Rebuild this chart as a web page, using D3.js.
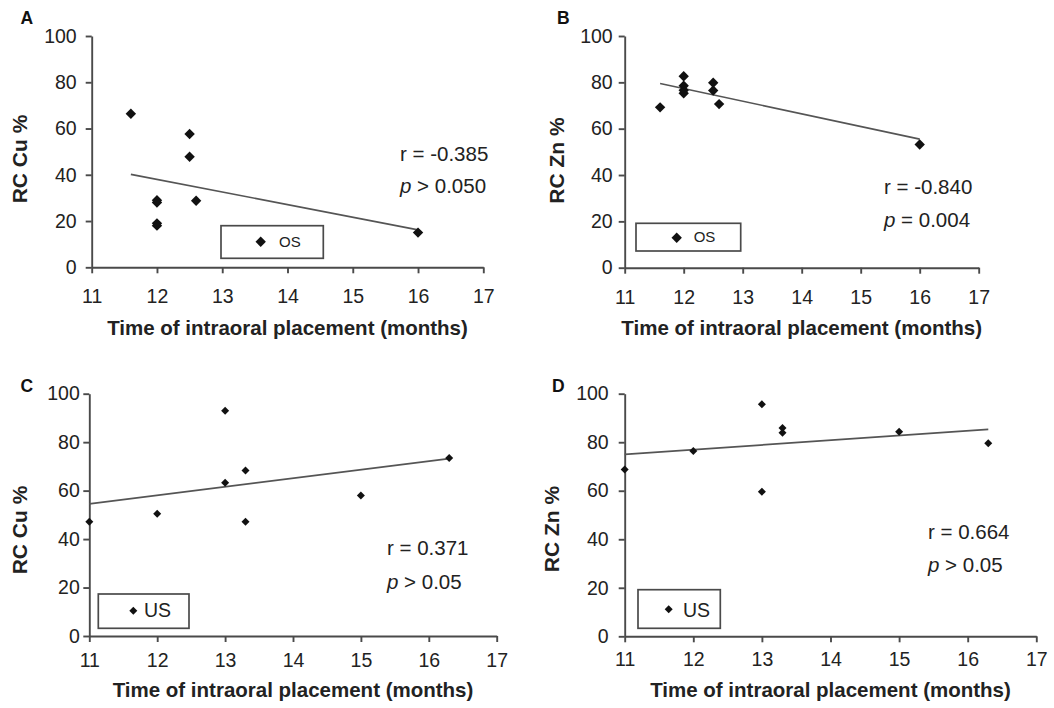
<!DOCTYPE html>
<html>
<head>
<meta charset="utf-8">
<script src="https://cdn.jsdelivr.net/npm/d3@7"></script>
<style>
  body { margin: 0; background: #fff; }
  text { font-family: "Liberation Sans", Arial, sans-serif; }
</style>
</head>
<body>
<div id="chart"></div>
<script>
// data
var yTicks = [0, 20, 40, 60, 80, 100];
var xTicks = [11, 12, 13, 14, 15, 16, 17];

var monthsOS = [11.6, 12, 12, 12, 12, 12.5, 12.5, 12.6, 16];
var cuOS = [66.4, 28.0, 29.0, 18.0, 19.0, 57.6, 47.8, 28.8, 15.0];
var znOS = [69.2, 82.6, 78.5, 76.6, 75.3, 79.8, 76.5, 70.6, 53.2];

var monthsUS = [11, 12, 13, 13, 13.3, 13.3, 15, 16.3];
var cuUS = [47.2, 50.5, 93.0, 63.2, 68.3, 47.2, 58.0, 73.5];
var znUS = [68.8, 76.4, 95.6, 59.6, 85.9, 83.9, 84.3, 79.6];

// fitted line end points [month, value]
var trendCuOS = [[11.6, 40.2], [16, 16.2]];
var trendZnOS = [[11.6, 79.5], [16, 55.5]];
var trendCuUS = [[11, 54.5], [16.3, 73.2]];
var trendZnUS = [[11, 75.0], [16.3, 85.3]];

var panelLetters = ["A", "B", "C", "D"];
var yTitles = ["RC Cu %", "RC Zn %", "RC Cu %", "RC Zn %"];
var groupNames = ["OS", "OS", "US", "US"];
var rTexts = ["r = -0.385", "r = -0.840", "r = 0.371", "r = 0.664"];
var pTexts = ["> 0.050", "= 0.004", "> 0.05", "> 0.05"];

var xTitle = "Time of intraoral placement (months)";

// layout of each panel (pixels)
var panels = [
  {x: monthsOS, y: cuOS, trend: trendCuOS, xr: [91.7, 483.3], yr: [267.3, 36], ypad: 9, xpad: 16,
   letter: [20.5, 24], ytitle: [27.3, 159], xtitle: 335, stat: [400, 160.5, 193.3], mark: 5.2,
   legend: {x: 221, y: 225.7, w: 102.3, h: 32.6, mx: 260.7, my: 241.7, tx: 279, ty: 246.7, fs: 15}},
  {x: monthsOS, y: znOS, trend: trendZnOS, xr: [624.7, 978.7], yr: [267.7, 36], ypad: 6, xpad: 16,
   letter: [557, 24], ytitle: [563.7, 160.5], xtitle: 335, stat: [884, 194.3, 226.7], mark: 5.2,
   legend: {x: 636, y: 223.3, w: 104.7, h: 27.7, mx: 676.7, my: 237.7, tx: 693.7, ty: 242, fs: 15}},
  {x: monthsUS, y: cuUS, trend: trendCuUS, xr: [89.3, 496.7], yr: [636, 393.7], ypad: 3.5, xpad: 11,
   letter: [20.5, 391.7], ytitle: [27.3, 530], xtitle: 697, stat: [387, 555, 589.3], mark: 4,
   legend: {x: 98.3, y: 594, w: 90.7, h: 34.3, mx: 133.3, my: 610.7, tx: 144, ty: 617, fs: 19.5}},
  {x: monthsUS, y: znUS, trend: trendZnUS, xr: [624.7, 1036.3], yr: [636.3, 393.7], ypad: 10, xpad: 9.5,
   letter: [552, 391.7], ytitle: [558.7, 529], xtitle: 697, stat: [928, 539.3, 571.7], mark: 4,
   legend: {x: 638, y: 589.7, w: 82.3, h: 38.6, mx: 668.7, my: 609.3, tx: 683, ty: 617, fs: 19.5}}
];

var axisColor = "#4a4a4a",
    textColor = "#222";

var svg = d3.select("#chart")
    .append("svg")
    .attr("width", 1054)
    .attr("height", 708);

svg.append("rect")
    .attr("width", 1054)
    .attr("height", 708)
    .attr("fill", "#fff");

var diamond = function(cx, cy, s) {
    return "M" + cx + "," + (cy - s) + "L" + (cx + s) + "," + cy +
        "L" + cx + "," + (cy + s) + "L" + (cx - s) + "," + cy + "Z";
};

panels.forEach(function(p, i) {
    var x = d3.scaleLinear().domain([11, 17]).range(p.xr);
    var y = d3.scaleLinear().domain([0, 100]).range(p.yr);
    var g = svg.append("g");

    // Y axis
    var yAxis = g.append("g")
        .attr("transform", "translate(" + p.xr[0] + ",0)")
        .call(d3.axisLeft(y).tickValues(yTicks).tickFormat(d3.format("d"))
            .tickSize(6).tickSizeOuter(0).tickPadding(p.ypad));

    // X axis
    var xAxis = g.append("g")
        .attr("transform", "translate(0," + p.yr[0] + ")")
        .call(d3.axisBottom(x).tickValues(xTicks).tickFormat(d3.format("d"))
            .tickSize(6).tickSizeOuter(0).tickPadding(p.xpad));

    [yAxis, xAxis].forEach(function(a) {
        a.select(".domain").attr("stroke", axisColor).attr("stroke-width", 1.9);
        a.selectAll(".tick line").attr("stroke", axisColor).attr("stroke-width", 1.9);
        a.selectAll(".tick text")
            .attr("fill", textColor)
            .style("font-family", "'Liberation Sans', Arial, sans-serif")
            .style("font-size", "19.5px");
    });

    // trend line
    g.append("line")
        .attr("x1", x(p.trend[0][0]))
        .attr("y1", y(p.trend[0][1]))
        .attr("x2", x(p.trend[1][0]))
        .attr("y2", y(p.trend[1][1]))
        .attr("stroke", "#555")
        .attr("stroke-width", 1.7);

    // points
    g.selectAll("path.dot")
        .data(p.x.map(function(m, k) { return [m, p.y[k]]; }))
        .enter()
        .append("path")
        .attr("class", "dot")
        .attr("d", function(d) { return diamond(x(d[0]), y(d[1]), p.mark); })
        .attr("fill", "#111");

    // panel letter
    g.append("text")
        .attr("x", p.letter[0])
        .attr("y", p.letter[1])
        .attr("fill", "#111")
        .style("font-size", "17.5px")
        .style("font-weight", "bold")
        .text(panelLetters[i]);

    // Y label
    g.append("text")
        .attr("text-anchor", "middle")
        .attr("transform", "translate(" + p.ytitle[0] + "," + p.ytitle[1] + ") rotate(-90)")
        .attr("fill", textColor)
        .style("font-size", "21px")
        .style("font-weight", "bold")
        .text(yTitles[i]);

    // X label
    g.append("text")
        .attr("text-anchor", "middle")
        .attr("x", (p.xr[0] + p.xr[1]) / 2)
        .attr("y", p.xtitle)
        .attr("fill", textColor)
        .style("font-size", "20.5px")
        .style("font-weight", "bold")
        .text(xTitle);

    // r and p
    g.append("text")
        .attr("x", p.stat[0])
        .attr("y", p.stat[1])
        .attr("fill", textColor)
        .style("font-size", "20.5px")
        .text(rTexts[i]);
    var pt = g.append("text")
        .attr("x", p.stat[0])
        .attr("y", p.stat[2])
        .attr("fill", textColor)
        .style("font-size", "20.5px");
    pt.append("tspan").style("font-style", "italic").text("p");
    pt.append("tspan").text(" " + pTexts[i]);

    // legend
    var L = p.legend;
    g.append("rect")
        .attr("x", L.x)
        .attr("y", L.y)
        .attr("width", L.w)
        .attr("height", L.h)
        .attr("fill", "#fff")
        .attr("stroke", axisColor)
        .attr("stroke-width", 1.7);
    g.append("path")
        .attr("d", diamond(L.mx, L.my, p.mark))
        .attr("fill", "#111");
    g.append("text")
        .attr("x", L.tx)
        .attr("y", L.ty)
        .attr("fill", textColor)
        .style("font-size", L.fs + "px")
        .text(groupNames[i]);
});
</script>
</body>
</html>
